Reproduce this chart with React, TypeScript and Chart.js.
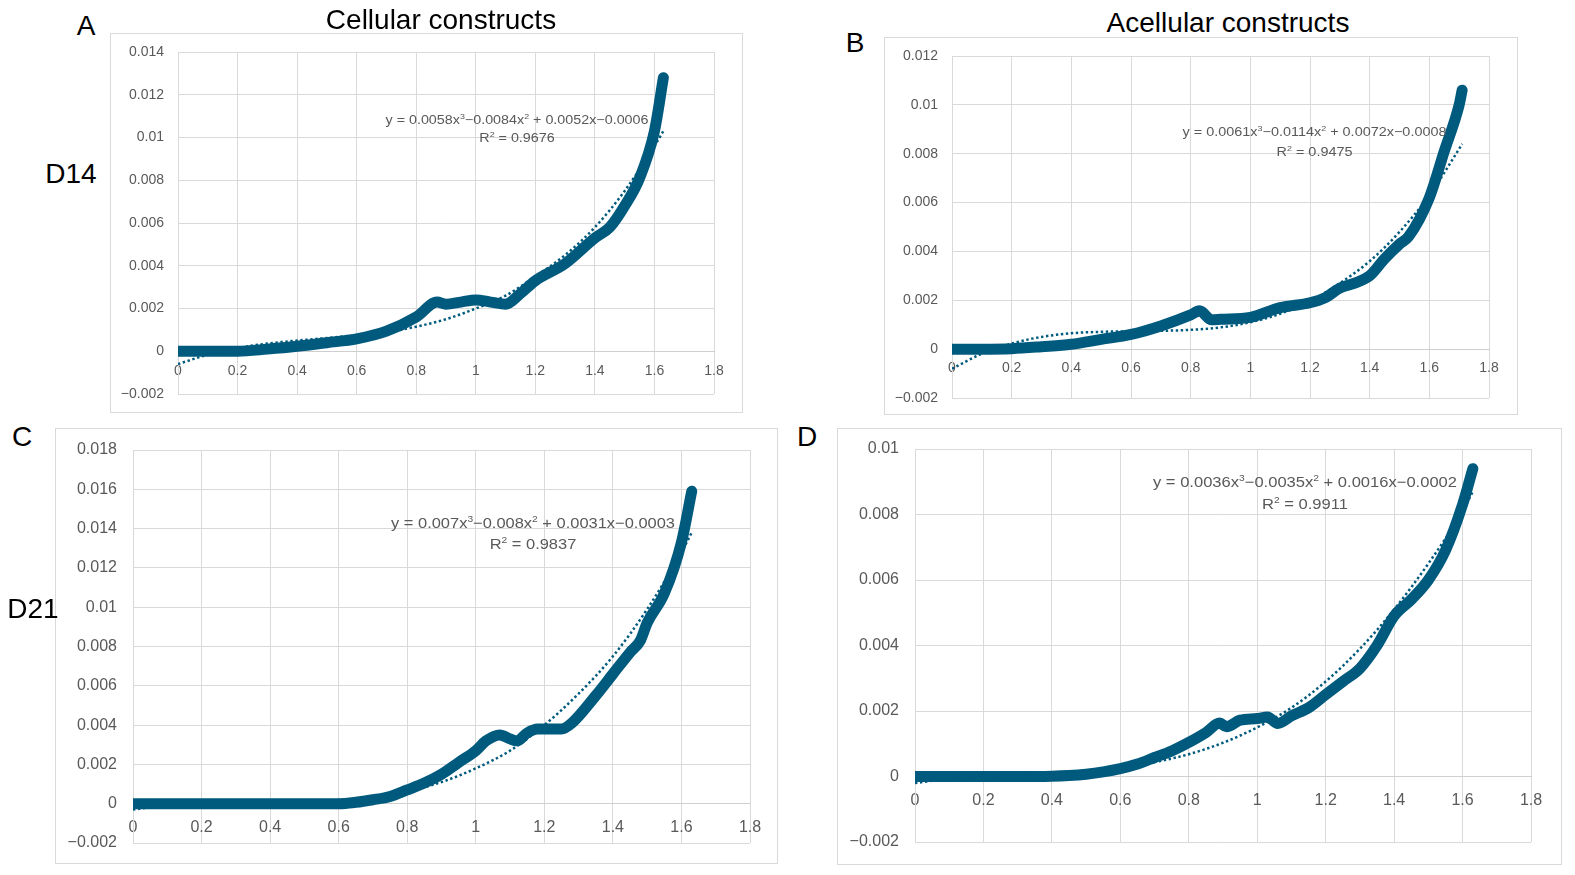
import React, { useEffect, useRef } from 'react';
import { Chart, registerables } from 'chart.js';

Chart.register(...registerables);

// ---- data ----
// A: cellular, day 14
const xA = [0, 0.1, 0.2, 0.3, 0.4, 0.5, 0.6, 0.7, 0.8, 0.87, 0.9, 0.95, 1.0, 1.05, 1.1, 1.15, 1.2, 1.3, 1.4, 1.45, 1.5, 1.55, 1.6, 1.63];
const yA = [0, 0, 0, 0.0001, 0.00023, 0.0004, 0.00058, 0.00094, 0.0016, 0.0023, 0.0022, 0.0023, 0.0024, 0.0023, 0.0022, 0.0027, 0.0033, 0.0041, 0.0053, 0.0058, 0.0068, 0.0081, 0.0103, 0.0128];
const trendXA = [0, 0.1, 0.2, 0.3, 0.4, 0.5, 0.6, 0.7, 0.8, 0.9, 1.0, 1.1, 1.2, 1.3, 1.4, 1.5, 1.6, 1.63];
const trendYA = [-0.0006, -0.00016, 0.00015, 0.00036, 0.0005, 0.00062, 0.00075, 0.0009, 0.00115, 0.0015, 0.002, 0.0026, 0.0035, 0.0045, 0.0058, 0.0075, 0.0096, 0.0103];

// B: acellular, day 14
const xB = [0, 0.1, 0.2, 0.3, 0.4, 0.5, 0.6, 0.7, 0.8, 0.83, 0.87, 0.9, 1.0, 1.1, 1.2, 1.25, 1.3, 1.35, 1.4, 1.45, 1.5, 1.53, 1.6, 1.65, 1.7, 1.71];
const yB = [0, 0, 0.00002, 0.0001, 0.0002, 0.0004, 0.0006, 0.00095, 0.0014, 0.00157, 0.0012, 0.00122, 0.0013, 0.0017, 0.0019, 0.0021, 0.0025, 0.0027, 0.003, 0.0037, 0.0043, 0.0046, 0.0062, 0.0081, 0.0100, 0.0106];
const trendXB = [0, 0.1, 0.2, 0.3, 0.4, 0.5, 0.6, 0.7, 0.8, 0.9, 1.0, 1.1, 1.2, 1.3, 1.4, 1.5, 1.6, 1.7, 1.71];
const trendYB = [-0.0008, -0.00019, 0.00023, 0.0005, 0.00065, 0.00071, 0.00073, 0.00075, 0.00079, 0.00089, 0.0011, 0.00145, 0.00196, 0.0027, 0.0036, 0.0048, 0.0063, 0.0082, 0.0084];

// C: cellular, day 21
const xC = [0, 0.1, 0.2, 0.3, 0.4, 0.5, 0.6, 0.65, 0.7, 0.75, 0.8, 0.85, 0.9, 0.95, 1.0, 1.03, 1.07, 1.1, 1.12, 1.15, 1.18, 1.25, 1.28, 1.35, 1.4, 1.45, 1.48, 1.5, 1.55, 1.6, 1.63];
const yC = [0, 0, 0, 0, 0, 0, 0, 0.00007, 0.0002, 0.00037, 0.0007, 0.00105, 0.0015, 0.0021, 0.0027, 0.0032, 0.0035, 0.0033, 0.0032, 0.0036, 0.0038, 0.0038, 0.0041, 0.0055, 0.0066, 0.0077, 0.0083, 0.0092, 0.0107, 0.0133, 0.0159];
const trendXC = [0, 0.1, 0.2, 0.3, 0.4, 0.5, 0.6, 0.7, 0.8, 0.9, 1.0, 1.1, 1.2, 1.3, 1.4, 1.5, 1.6, 1.63];
const trendYC = [-0.0003, -0.00006, 0.00006, 0.0001, 0.00011, 0.00013, 0.00019, 0.00035, 0.00064, 0.0011, 0.0018, 0.0027, 0.004, 0.0056, 0.0075, 0.0099, 0.0128, 0.0138];

// D: acellular, day 21
const xD = [0, 0.1, 0.2, 0.3, 0.4, 0.45, 0.5, 0.55, 0.6, 0.65, 0.7, 0.75, 0.8, 0.85, 0.89, 0.91, 0.95, 1.0, 1.03, 1.06, 1.1, 1.15, 1.2, 1.25, 1.3, 1.35, 1.4, 1.45, 1.5, 1.55, 1.6, 1.63];
const yD = [0, 0, 0, 0, 0.00001, 0.00003, 0.00007, 0.00014, 0.00024, 0.00038, 0.00058, 0.00078, 0.00104, 0.00134, 0.00163, 0.00152, 0.00172, 0.00177, 0.00182, 0.00162, 0.00185, 0.0021, 0.0025, 0.0029, 0.0033, 0.004, 0.0049, 0.0054, 0.006, 0.0069, 0.0083, 0.0094];
const trendXD = [0, 0.1, 0.2, 0.3, 0.4, 0.5, 0.6, 0.7, 0.8, 0.9, 1.0, 1.1, 1.2, 1.3, 1.4, 1.5, 1.6, 1.63];
const trendYD = [-0.0002, -0.00007, 0.00001, 0.00006, 0.00011, 0.00018, 0.00028, 0.00044, 0.00068, 0.00103, 0.0015, 0.0021, 0.0029, 0.0039, 0.0051, 0.0065, 0.0081, 0.0087];

// trendline labels: [text, isSuperscript]
const eqA: [string, boolean][] = [['y = 0.0058x', false], ['3', true], ['\u22120.0084x', false], ['2', true], [' + 0.0052x\u22120.0006', false]];
const eqB: [string, boolean][] = [['y = 0.0061x', false], ['3', true], ['\u22120.0114x', false], ['2', true], [' + 0.0072x\u22120.0008', false]];
const eqC: [string, boolean][] = [['y = 0.007x', false], ['3', true], ['\u22120.008x', false], ['2', true], [' + 0.0031x\u22120.0003', false]];
const eqD: [string, boolean][] = [['y = 0.0036x', false], ['3', true], ['\u22120.0035x', false], ['2', true], [' + 0.0016x\u22120.0002', false]];
const r2A = '0.9676';
const r2B = '0.9475';
const r2C = '0.9837';
const r2D = '0.9911';

const LINE = '#005a7e';
const GRID = '#d9d9d9';
const TICK = '#595959';
const FONT = '"Liberation Sans", Arial, sans-serif';

const fmt = (v: number) => String(Number(v.toFixed(4))).replace('-', '\u2212');

type EqLabel = { parts: [string, boolean][]; r2: string; cx: number; width: number; y1: number; y2: number; size: number };

function drawEq(ctx: CanvasRenderingContext2D, eq: EqLabel) {
  const big = `${eq.size}px ${FONT}`;
  const small = `${eq.size * 0.62}px ${FONT}`;
  const measure = (parts: [string, boolean][]) =>
    parts.map(([t, sup]) => {
      ctx.font = sup ? small : big;
      return ctx.measureText(t).width;
    });
  const w1 = measure(eq.parts);
  const total = w1.reduce((a, b) => a + b, 0);
  const sx = eq.width / total;

  const drawLine = (parts: [string, boolean][], widths: number[], y: number) => {
    const tw = widths.reduce((a, b) => a + b, 0) * sx;
    ctx.save();
    ctx.translate(eq.cx - tw / 2, y);
    ctx.scale(sx, 1);
    let x = 0;
    parts.forEach(([t, sup], i) => {
      ctx.font = sup ? small : big;
      ctx.fillText(t, x, sup ? -eq.size * 0.33 : 0);
      x += widths[i];
    });
    ctx.restore();
  };

  ctx.save();
  ctx.fillStyle = TICK;
  ctx.textBaseline = 'middle';
  ctx.textAlign = 'left';
  drawLine(eq.parts, w1, eq.y1);
  const r2parts: [string, boolean][] = [['R', false], ['2', true], [' = ' + eq.r2, false]];
  drawLine(r2parts, measure(r2parts), eq.y2);
  ctx.restore();
}

type PanelProps = {
  left: number; top: number; width: number; height: number;
  yMin: number; yMax: number;
  yw: number; padTop: number; padRight: number; padBottom: number;
  fontSize: number; xPad: number; yPad: number;
  xs: number[]; ys: number[]; tx: number[]; ty: number[];
  eq: EqLabel;
};

const Panel: React.FC<PanelProps> = (p) => {
  const canvasRef = useRef<HTMLCanvasElement>(null);
  const chartRef = useRef<Chart | null>(null);
  const cw = p.width - 2;
  const ch = p.height - 2;

  useEffect(() => {
    if (!canvasRef.current) return;
    if (chartRef.current) chartRef.current.destroy();

    chartRef.current = new Chart(canvasRef.current, {
      type: 'scatter',
      data: {
        datasets: [
          {
            label: 'Poly. trend',
            data: p.tx.map((x, i) => ({ x, y: p.ty[i] })),
            showLine: true,
            borderColor: LINE,
            borderWidth: 2.5,
            borderDash: [2.4, 2.6],
            cubicInterpolationMode: 'monotone',
            pointRadius: 0,
          },
          {
            label: 'Data',
            data: p.xs.map((x, i) => ({ x, y: p.ys[i] })),
            showLine: true,
            borderColor: LINE,
            borderWidth: 11,
            borderCapStyle: 'round',
            borderJoinStyle: 'round',
            cubicInterpolationMode: 'monotone',
            pointRadius: 0,
          },
        ],
      },
      options: {
        responsive: false,
        animation: false,
        layout: { padding: { left: 0, top: p.padTop, right: p.padRight, bottom: p.padBottom } },
        plugins: { legend: { display: false }, tooltip: { enabled: false } },
        scales: {
          x: {
            type: 'linear',
            position: { y: 0 } as any,
            min: 0,
            max: 1.8,
            afterFit: (s) => { s.paddingLeft = 0; s.paddingRight = 0; s.paddingTop = 0; s.paddingBottom = 0; },
            grid: { color: GRID, drawTicks: false },
            border: { color: '#cfcfcf' },
            ticks: {
              stepSize: 0.2,
              padding: p.xPad,
              color: TICK,
              font: { size: p.fontSize, family: FONT },
              callback: (v) => fmt(Number(v)),
            },
          },
          y: {
            type: 'linear',
            min: p.yMin,
            max: p.yMax,
            afterFit: (s) => { s.width = p.yw; s.paddingTop = 0; s.paddingBottom = 0; },
            grid: { color: GRID, drawTicks: false },
            border: { color: GRID },
            ticks: {
              stepSize: 0.002,
              padding: p.yPad,
              color: TICK,
              font: { size: p.fontSize, family: FONT },
              callback: (v) => fmt(Number(v)),
            },
          },
        },
      },
      plugins: [{ id: 'trendEq', afterDraw: (c: Chart) => drawEq(c.ctx, p.eq) }],
    });

    return () => {
      if (chartRef.current) {
        chartRef.current.destroy();
        chartRef.current = null;
      }
    };
  }, []);

  return (
    <div style={{ position: 'absolute', left: p.left, top: p.top, width: p.width, height: p.height, boxSizing: 'border-box', border: '1px solid #d9d9d9', background: '#fff' }}>
      <canvas ref={canvasRef} width={cw} height={ch} style={{ display: 'block', width: cw, height: ch }} />
    </div>
  );
};

const Label: React.FC<{ x: number; y: number; text: string }> = ({ x, y, text }) => (
  <div style={{ position: 'absolute', left: x, top: y, transform: 'translate(-50%, -50%)', whiteSpace: 'nowrap', fontFamily: FONT, fontSize: 28, lineHeight: 1, color: '#000' }}>
    {text}
  </div>
);

export default function App() {
  return (
    <div style={{ position: 'absolute', left: 0, top: 0, width: 1575, height: 875, background: '#fff', overflow: 'hidden' }}>
      <Panel left={110} top={33} width={633} height={380} yMin={-0.002} yMax={0.014} yw={67} padTop={18} padRight={28} padBottom={18}
        fontSize={14} xPad={11} yPad={14} xs={xA} ys={yA} tx={trendXA} ty={trendYA}
        eq={{ parts: eqA, r2: r2A, cx: 406, width: 263, y1: 86.5, y2: 105, size: 12.5 }} />
      <Panel left={884} top={37} width={634} height={378} yMin={-0.002} yMax={0.012} yw={67} padTop={18} padRight={28} padBottom={16}
        fontSize={14} xPad={11} yPad={14} xs={xB} ys={yB} tx={trendXB} ty={trendYB}
        eq={{ parts: eqB, r2: r2B, cx: 429.5, width: 264, y1: 95, y2: 114.5, size: 12.5 }} />
      <Panel left={55} top={428} width={723} height={436} yMin={-0.002} yMax={0.018} yw={77} padTop={21} padRight={27} padBottom={20}
        fontSize={16} xPad={14} yPad={16} xs={xC} ys={yC} tx={trendXC} ty={trendYC}
        eq={{ parts: eqC, r2: r2C, cx: 477, width: 284, y1: 95, y2: 116, size: 15 }} />
      <Panel left={837} top={428} width={725} height={437} yMin={-0.002} yMax={0.01} yw={77} padTop={20} padRight={30} padBottom={22}
        fontSize={16} xPad={14} yPad={16} xs={xD} ys={yD} tx={trendXD} ty={trendYD}
        eq={{ parts: eqD, r2: r2D, cx: 467, width: 304, y1: 54, y2: 76, size: 15 }} />

      <Label x={441} y={20} text="Cellular constructs" />
      <Label x={1228} y={23} text="Acellular constructs" />
      <Label x={86} y={26} text="A" />
      <Label x={855} y={43} text="B" />
      <Label x={22} y={437} text="C" />
      <Label x={807} y={437} text="D" />
      <Label x={71} y={174} text="D14" />
      <Label x={33} y={609} text="D21" />
    </div>
  );
}
